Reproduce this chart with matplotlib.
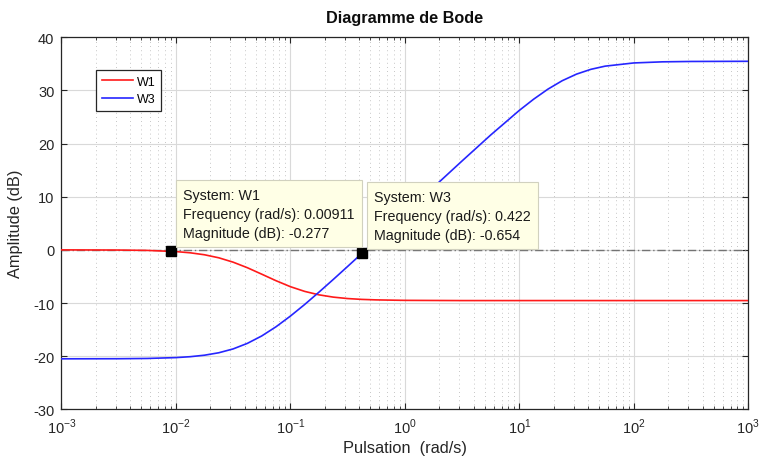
import matplotlib
matplotlib.use("Agg")
import matplotlib.pyplot as plt
from matplotlib.ticker import LogLocator, NullFormatter, FixedLocator

plt.rcParams['font.family'] = ['Liberation Sans', 'DejaVu Sans']
plt.rcParams['mathtext.fontset'] = 'custom'
plt.rcParams['mathtext.rm'] = 'Liberation Sans'
plt.rcParams['axes.unicode_minus'] = False

# Magnitude responses (rad/s, dB)
w1_freq = [0.001, 0.00316, 0.00562, 0.01, 0.01334, 0.01778, 0.02371, 0.03162,
           0.04217, 0.05623, 0.07499, 0.1, 0.1334, 0.1778, 0.2371, 0.3162,
           0.4217, 0.5623, 1.0, 3.162, 10.0, 100.0, 1000.0]
w1_mag = [0.0, -0.03, -0.10, -0.32, -0.55, -0.92, -1.49, -2.31,
          -3.36, -4.57, -5.80, -6.92, -7.81, -8.46, -8.89, -9.16,
          -9.32, -9.41, -9.50, -9.54, -9.54, -9.54, -9.54]

w3_freq = [0.001, 0.00316, 0.00562, 0.01, 0.01334, 0.01778, 0.02371, 0.03162,
           0.04217, 0.05623, 0.07499, 0.1, 0.1334, 0.1778, 0.2371, 0.3162,
           0.5623, 1.0, 1.778, 3.162, 5.623, 10.0, 13.34, 17.78, 23.71,
           31.62, 42.17, 56.23, 100.0, 177.8, 316.2, 1000.0]
w3_mag = [-20.50, -20.48, -20.43, -20.27, -20.10, -19.82, -19.36, -18.64,
          -17.59, -16.20, -14.47, -12.47, -10.28, -7.96, -5.57, -3.13,
          1.81, 6.79, 11.77, 16.73, 21.61, 26.24, 28.35, 30.24, 31.83,
          33.07, 33.97, 34.57, 35.17, 35.38, 35.45, 35.48]

# Data tips
tip_names = ["W1", "W3"]
tip_freq = [0.00911, 0.422]
tip_mag = [-0.277, -0.654]

y_ticks = [-30, -20, -10, 0, 10, 20, 30, 40]
x_ticks = [1e-3, 1e-2, 1e-1, 1e0, 1e1, 1e2, 1e3]
x_tick_labels = [r'$10^{-3}$', r'$10^{-2}$', r'$10^{-1}$', r'$10^{0}$',
                 r'$10^{1}$', r'$10^{2}$', r'$10^{3}$']

fig = plt.figure(figsize=(7.62, 4.64), dpi=100)
ax = fig.add_axes([0.0805, 0.1157, 0.9015, 0.8018])

ax.set_xscale('log')
ax.set_xlim(1e-3, 1e3)
ax.set_ylim(-30, 40)

ax.axhline(0, color=(0.45, 0.45, 0.45), lw=1.0, ls=(0, (6, 2, 1, 2)), zorder=1.5)

ax.plot(w1_freq, w1_mag, color=(1.0, 0.1, 0.1), lw=1.2, label='W1', zorder=3)
ax.plot(w3_freq, w3_mag, color=(0.15, 0.15, 1.0), lw=1.2, label='W3', zorder=3)

ax.plot(tip_freq, tip_mag, ls='none', marker='s', markersize=7,
        color='black', zorder=5)

for name, f, m in zip(tip_names, tip_freq, tip_mag):
    ax.annotate(f"System: {name}\nFrequency (rad/s): {f:g}\nMagnitude (dB): {m:g}",
                xy=(f, m), xytext=(8.5, 8.5), textcoords='offset points',
                ha='left', va='bottom', fontsize=10.3, color=(0.1, 0.1, 0.1),
                linespacing=1.45,
                bbox=dict(boxstyle='square,pad=0.5', fc=(1.0, 1.0, 0.9),
                          ec=(0.82, 0.82, 0.75), lw=0.8),
                zorder=6)

ax.set_yticks(y_ticks)
ax.xaxis.set_major_locator(FixedLocator(x_ticks))
ax.set_xticklabels(x_tick_labels)
ax.xaxis.set_minor_locator(LogLocator(base=10, subs=range(2, 10), numticks=20))
ax.xaxis.set_minor_formatter(NullFormatter())

ax.grid(True, which='major', color=(0.85, 0.85, 0.85), lw=0.8, ls='-', zorder=0)
ax.grid(True, which='minor', axis='x', color=(0.7, 0.7, 0.7), lw=0.6,
        ls=(0, (1, 4)), zorder=0)
ax.set_axisbelow(True)

ax.tick_params(which='both', direction='in', top=True, right=True,
               colors=(0.15, 0.15, 0.15), labelsize=10.5,
               labelcolor=(0.15, 0.15, 0.15))
ax.tick_params(which='major', length=4, width=0.8, pad=5)
ax.tick_params(which='minor', length=2.5, width=0.6)
for s in ax.spines.values():
    s.set_color((0.15, 0.15, 0.15))
    s.set_linewidth(0.9)

ax.set_title('Diagramme de Bode', fontsize=11.7, fontweight='bold', pad=11,
             color=(0.05, 0.05, 0.05))
ax.set_xlabel('Pulsation  (rad/s)', fontsize=11.8, color=(0.15, 0.15, 0.15),
              labelpad=3)
ax.set_ylabel('Amplitude (dB)', fontsize=11.8, color=(0.15, 0.15, 0.15),
              labelpad=7)

leg = ax.legend(loc='upper left', bbox_to_anchor=(0.051, 0.912), fontsize=9,
                frameon=True, fancybox=False, framealpha=1, edgecolor=(0.15, 0.15, 0.15),
                handlelength=2.5, handletextpad=0.3, borderpad=0.45,
                labelspacing=0.45, borderaxespad=0)
leg.get_frame().set_linewidth(0.9)

fig.savefig('out.png', dpi=100)
